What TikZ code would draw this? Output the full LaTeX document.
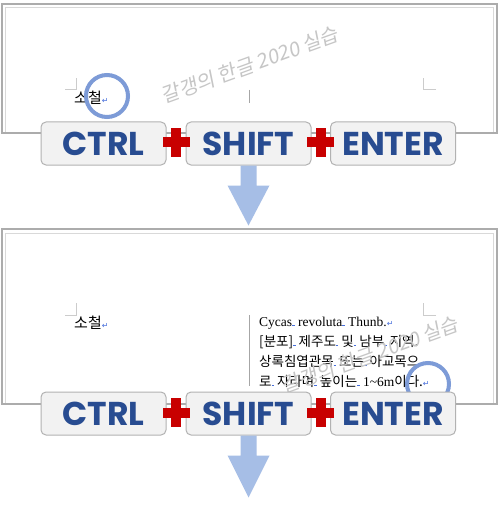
\documentclass[tikz,border=0pt]{standalone}
\usepackage{fontspec}
\usetikzlibrary{calc}
\setmainfont{Liberation Serif}
\newfontfamily\kr{Noto Sans CJK KR}
\newfontfamily\wmf{Noto Sans CJK KR}[FakeSlant=0.15]
\newfontfamily\keyf{Poppins}
\newfontfamily\sym{DejaVu Sans}
\definecolor{keyblue}{RGB}{40,76,145}
\definecolor{plusred}{RGB}{200,0,0}
\definecolor{circblue}{RGB}{125,155,215}
\definecolor{arrowblue}{RGB}{166,190,230}
\definecolor{markblue}{RGB}{70,110,220}
\newcommand\spm{\textcolor{markblue}{\rule[0.5pt]{2.5pt}{0.6pt}} }
\newcommand\retm{\textcolor{markblue}{\sym\fontsize{8}{8}\selectfont ↵}}
\tikzset{
  outerframe/.style={draw=gray!65, line width=1.4pt},
  innerframe/.style={draw=gray!30, line width=1pt},
  cornermark/.style={draw=gray!40, line width=0.8pt},
  cursorline/.style={draw=gray!70, line width=0.9pt},
  keybox/.style={draw=gray!60, fill=gray!10, line width=1pt, rounded corners=5pt,
    minimum width=125pt, minimum height=43pt, inner sep=0pt,
    text=keyblue, font=\keyf\bfseries\fontsize{33}{33}\selectfont},
  hotcircle/.style={circle, draw=circblue, line width=4pt, minimum size=42pt, inner sep=0pt},
  wm/.style={text=gray!45, font=\wmf\fontsize{20}{20}\selectfont, inner sep=0pt},
  bodytext/.style={anchor=base west, inner sep=0pt, font=\fontsize{13.5}{13.5}\selectfont},
  plus/.style={fill=plusred},
  bigarrow/.style={fill=arrowblue}
}
\begin{document}
\begin{tikzpicture}[x=1pt,y=-1pt]
\useasboundingbox (0,0) rectangle (500,505);
\fill[white] (0,0) rectangle (500,505);

% ---------- top panel ----------
\draw[innerframe] (5,8) rectangle (493,133);
\draw[outerframe] (2,4) rectangle (497,133);
\draw[cornermark] (65,89) -- (76,89) -- (76,78);
\draw[cornermark] (436,89) -- (423,89) -- (423,78);
\coordinate (cur1a) at (249,90);
\coordinate (cur1b) at (249,103);
\draw[cursorline] (cur1a) -- (cur1b);
\node[anchor=west, inner sep=0pt, font=\kr\fontsize{15}{15}\selectfont] (t1) at (74,98) {소철\retm};
\node[wm, rotate=20] (w1) at (250,65) {갈갱의 한글 2020 실습};
\node[hotcircle] (o1) at (107,96) {};

% keys row 1
\node[keybox] (c1) at (103.5,143.5) {CTRL};
\node[keybox] (s1) at (248.5,143.5) {SHIFT};
\node[keybox] (e1) at (393,143.5) {ENTER};
\coordinate (p1) at ($(c1.east)!0.5!(s1.west)+(0,-1)$);
\coordinate (p2) at ($(s1.east)!0.5!(e1.west)+(0,-1)$);
\foreach \p in {p1,p2}{
  \fill[plus] ($(\p)+(-13.5,-5)$) rectangle ($(\p)+(13.5,5)$);
  \fill[plus] ($(\p)+(-5,-14.5)$) rectangle ($(\p)+(5,14.5)$);
}
\fill[bigarrow] ($(s1.south)+(-8,0)$) -- ($(s1.south)+(-8,20)$) -- ($(s1.south)+(-21,20)$)
  -- ($(s1.south)+(0,60)$) -- ($(s1.south)+(21,20)$) -- ($(s1.south)+(8,20)$)
  -- ($(s1.south)+(8,0)$) -- cycle;

% ---------- bottom panel ----------
\draw[innerframe] (5,233) rectangle (493,404);
\draw[outerframe] (2,229) rectangle (497,404);
\draw[cornermark] (65,315) -- (76,315) -- (76,303);
\draw[cornermark] (436,315) -- (423,315) -- (423,303);
\coordinate (cur2a) at (249,315);
\coordinate (cur2b) at (249,386);
\draw[cursorline] (cur2a) -- (cur2b);
\node[anchor=west, inner sep=0pt, font=\kr\fontsize{15}{15}\selectfont] (t2) at (74,323) {소철\retm};
\node[bodytext] (l1) at (259,326) {Cycas\spm revoluta\spm Thunb.\retm};
\node[bodytext] (l2) at (259,346) {\kr [분포]\spm 제주도\spm 및\spm 남부\spm 지역.};
\node[bodytext] (l3) at (259,366) {\kr 상록침엽관목\spm 또는\spm 아교목으};
\node[bodytext] (l4) at (259,386) {{\kr 로\spm 자라며\spm 높이는}\spm 1\textasciitilde 6m{\kr 이다.}\retm};
\node[wm, rotate=20] (w2) at (370,355) {갈갱의 한글 2020 실습};
\node[hotcircle] (o2) at (428,384) {};

% keys row 2
\node[keybox] (c2) at (103.5,413.5) {CTRL};
\node[keybox] (s2) at (248.5,413.5) {SHIFT};
\node[keybox] (e2) at (393,413.5) {ENTER};
\coordinate (p3) at ($(c2.east)!0.5!(s2.west)+(0,-1)$);
\coordinate (p4) at ($(s2.east)!0.5!(e2.west)+(0,-1)$);
\foreach \p in {p3,p4}{
  \fill[plus] ($(\p)+(-13.5,-5)$) rectangle ($(\p)+(13.5,5)$);
  \fill[plus] ($(\p)+(-5,-14.5)$) rectangle ($(\p)+(5,14.5)$);
}
\fill[bigarrow] ($(s2.south)+(-8,0)$) -- ($(s2.south)+(-8,20)$) -- ($(s2.south)+(-21,20)$)
  -- ($(s2.south)+(0,62)$) -- ($(s2.south)+(21,20)$) -- ($(s2.south)+(8,20)$)
  -- ($(s2.south)+(8,0)$) -- cycle;
\end{tikzpicture}
\end{document}
